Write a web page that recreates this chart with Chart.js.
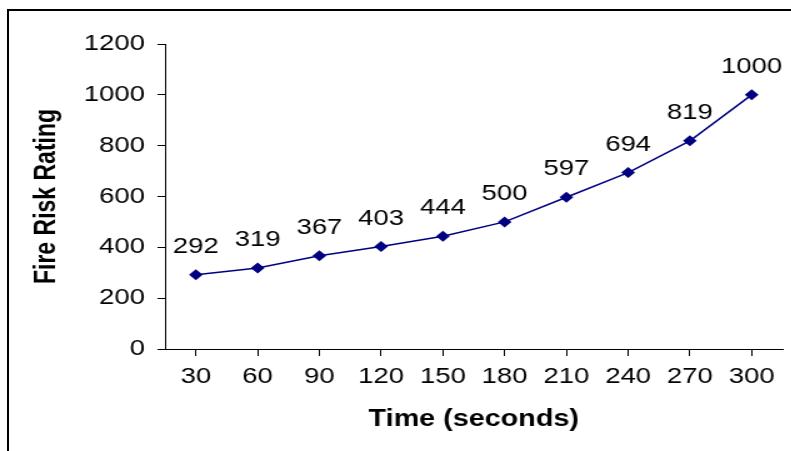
<!DOCTYPE html>
<html lang="en">
<head>
  <meta charset="UTF-8">
  <title>Fire Risk Rating</title>
  <script src="https://cdn.jsdelivr.net/npm/chart.js"></script>
  <style>
    body { margin: 0; background: #fff; overflow: hidden; }
    #frame { position: absolute; left: 7px; top: 9px; width: 800px; height: 460px;
             border-top: 2px solid #000; border-left: 2px solid #000; }
    #wrap { position: absolute; left: 0; top: 0; width: 633px; height: 451px;
            transform: scaleX(1.25); transform-origin: 0 0; }
  </style>
</head>
<body>
  <div id="frame"></div>
  <div id="wrap"><canvas id="chart" width="633" height="451"></canvas></div>

  <script>
    const times = ["30", "60", "90", "120", "150", "180", "210", "240", "270", "300"];
    const ratings = [292, 319, 367, 403, 444, 500, 597, 694, 819, 1000];
    const yTicks = [0, 200, 400, 600, 800, 1000, 1200];

    const fontFam = "'Liberation Sans', Arial, sans-serif";

    // valeurs au-dessus des points
    const valueLabels = {
      id: "valueLabels",
      afterDatasetsDraw(chart) {
        const ctx = chart.ctx;
        const meta = chart.getDatasetMeta(0);
        ctx.save();
        ctx.font = "22px " + fontFam;
        ctx.fillStyle = "#000";
        ctx.textAlign = "center";
        ctx.textBaseline = "alphabetic";
        meta.data.forEach((pt, i) => {
          ctx.fillText(String(ratings[i]), pt.x, pt.y - 22);
        });
        ctx.restore();
      }
    };

    new Chart(document.getElementById("chart"), {
      type: "line",
      data: {
        labels: times,
        datasets: [{
          data: ratings,
          borderColor: "#000080",
          backgroundColor: "#000080",
          borderWidth: 1.5,
          pointStyle: "rectRot",
          pointRadius: 5.5,
          pointBorderWidth: 0,
          fill: false,
          tension: 0
        }]
      },
      options: {
        responsive: false,
        animation: false,
        layout: { padding: { left: 0, top: 44, right: 7, bottom: 0 } },
        plugins: { legend: { display: false }, tooltip: { enabled: false } },
        scales: {
          x: {
            offset: true,
            afterFit(s) { s.height = 102; },
            grid: { drawOnChartArea: false, drawTicks: true, tickLength: 7, color: "#000" },
            border: { color: "#000", width: 1 },
            ticks: { color: "#000", font: { family: fontFam, size: 22 }, padding: 8, maxRotation: 0 },
            title: { display: true, text: "Time (seconds)", color: "#000",
                     font: { family: fontFam, size: 23, weight: "bold" }, padding: { top: 0, bottom: 18 } }
          },
          y: {
            min: 0,
            max: 1200,
            afterFit(s) { s.width = 132; },
            afterBuildTicks(s) { s.ticks = yTicks.map(v => ({ value: v })); },
            grid: { drawOnChartArea: false, drawTicks: true, tickLength: 6, color: "#000" },
            border: { color: "#000", width: 1 },
            ticks: { color: "#000", font: { family: fontFam, size: 22 }, padding: 10,
                     callback: v => String(v) },
            title: { display: true, text: "Fire Risk Rating", color: "#000",
                     font: { family: fontFam, size: 23, weight: "bold" }, padding: { top: 24, bottom: 0 } }
          }
        }
      },
      plugins: [valueLabels]
    });
  </script>
</body>
</html>
